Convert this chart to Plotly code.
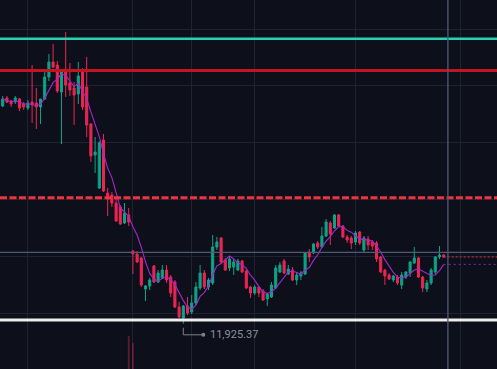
import plotly.graph_objects as go
import pandas as pd

# ---- data ----
bars = list(range(106))
open_ = [12361,12377,12371,12369,12375,12365,12357,12369,12367,12359,
         12375,12419,12449,12443,12389,12429,12407,12397,12385,12433,
         12399,12325,12263,12197,12293,12187,12183,12167,12159,12127,
         12143,12071,12065,12057,11995,12001,12041,12009,12017,12033,
         12019,12009,11959,11937,11961,11949,11967,11997,12027,11999,
         12007,12079,12097,12053,12037,12039,12033,12051,12031,11999,
         11987,11999,11991,11975,11979,11997,12029,12051,12025,12033,
         12013,12021,12025,12069,12067,12087,12079,12101,12127,12117,
         12143,12121,12099,12097,12089,12109,12073,12095,12089,12087,
         12059,12033,12023,12013,12019,12003,12019,12027,12047,12057,
         12019,11995,12007,12029,12059,12063]
close = [12375,12369,12365,12377,12357,12359,12367,12363,12359,12375,
         12419,12449,12439,12391,12429,12403,12393,12383,12421,12359,
         12323,12261,12269,12287,12191,12175,12167,12131,12125,12147,
         12129,12065,12049,12003,12001,12013,12009,12027,12033,12013,
         11987,11959,11939,11961,11947,11967,11999,12027,11999,12013,
         12079,12089,12049,12033,12055,12049,12051,12029,11997,11987,
         11999,11987,11973,11985,12003,12037,12043,12027,12035,12013,
         12023,12027,12067,12059,12085,12079,12101,12129,12105,12143,
         12121,12099,12093,12087,12107,12087,12097,12083,12081,12055,
         12029,12021,12015,12021,12007,12023,12029,12049,12057,12019,
         11997,12007,12033,12059,12063,12059]
high = [12381,12381,12373,12381,12377,12369,12373,12443,12397,12375,
        12429,12465,12485,12451,12431,12509,12447,12409,12449,12437,
        12459,12327,12299,12291,12305,12197,12189,12177,12163,12167,
        12157,12073,12071,12059,12003,12017,12043,12033,12043,12043,
        12023,12013,11969,11963,11979,11983,12009,12043,12033,12017,
        12103,12099,12099,12057,12059,12055,12055,12053,12033,12001,
        12003,12001,11995,11987,12009,12043,12049,12055,12043,12039,
        12027,12031,12069,12075,12087,12091,12119,12135,12131,12145,
        12145,12123,12103,12101,12111,12111,12101,12101,12093,12091,
        12061,12035,12027,12023,12023,12029,12031,12051,12079,12059,
        12021,12013,12037,12061,12081,12065]
low = [12359,12367,12359,12365,12351,12353,12353,12327,12315,12325,
       12373,12411,12437,12387,12285,12379,12381,12323,12365,12353,
       12299,12249,12227,12195,12189,12141,12159,12129,12123,12125,
       12121,12025,12047,11999,11971,11993,12007,12007,12015,12007,
       11979,11957,11937,11925.37,11943,11945,11963,11993,11995,11993,
       12003,12073,12045,12031,12031,12023,12031,12027,11995,11977,
       11983,11979,11971,11961,11977,11995,12027,12025,12023,12011,
       12003,12013,12023,12049,12065,12075,12077,12099,12083,12115,
       12119,12097,12087,12075,12083,12083,12069,12073,12073,12049,
       12027,12003,12013,12009,12003,11995,12015,12019,12045,12017,
       11989,11989,12003,12025,12055,12057]

volume_bars = [30, 31]
volume = [9.0, 7.05]

ma_period = 5
level_teal = 12495.6
level_red = 12432.0
level_red_dash = 12177.6
level_white = 11933.0
cross_price = 12068.4
cross_bar = 106
grid_bars = [6, 31, 45, 60, 84, 109]

BG = "#0d101a"
GRID = "#1e2231"
UP = "#0ca38a"
DOWN = "#eb2553"

ma = pd.Series(close).rolling(ma_period, min_periods=1).mean().tolist()

x_range = [-0.643, 117.69]
y_range = [11835, 12573]

fig = go.Figure()

fig.add_trace(go.Bar(
    x=volume_bars, y=volume, yaxis="y2", width=0.42,
    marker=dict(color="rgba(200,40,70,0.45)", line=dict(width=0)),
    showlegend=False, hoverinfo="skip"))

fig.add_trace(go.Candlestick(
    x=bars, open=open_, high=high, low=low, close=close,
    increasing=dict(line=dict(color=UP, width=1), fillcolor=UP),
    decreasing=dict(line=dict(color=DOWN, width=1), fillcolor=DOWN),
    whiskerwidth=0, showlegend=False))

fig.add_trace(go.Scatter(
    x=bars, y=ma, mode="lines", line=dict(color="#a526cf", width=1.1),
    showlegend=False, hoverinfo="skip"))

# last price / last MA dotted extensions
fig.add_trace(go.Scatter(
    x=[bars[-1], x_range[1]], y=[close[-1], close[-1]], mode="lines",
    line=dict(color="#d8283f", width=1, dash="2px,2px"), showlegend=False))
fig.add_trace(go.Scatter(
    x=[bars[-1], x_range[1]], y=[ma[-1], ma[-1]], mode="lines",
    line=dict(color="#8a22b0", width=1, dash="2px,3px"), showlegend=False))

shapes = []
def hline(y, color, width, dash="solid"):
    shapes.append(dict(type="line", xref="paper", x0=0, x1=1, yref="y",
                       y0=y, y1=y, line=dict(color=color, width=width, dash=dash)))

hline(cross_price, "#4e5a7c", 1.3)
hline(level_teal, "#26d3ae", 2.4)
hline(level_red, "#c3141f", 2.8)
hline(level_red_dash, "#f2313f", 3, "7px,2.5px")
hline(level_white, "#ededed", 3.2)
shapes.append(dict(type="line", xref="x", x0=cross_bar, x1=cross_bar,
                   yref="paper", y0=0, y1=1,
                   line=dict(color="#4e5a7c", width=1.3)))

# low marker (elbow connector)
low_idx = low.index(min(low))
low_val = min(low)
conn = "#7d808a"
shapes.append(dict(type="line", xref="x", yref="y", xsizemode="pixel", ysizemode="pixel",
                   xanchor=low_idx, yanchor=low_val, x0=0, x1=0, y0=-4, y1=-11,
                   line=dict(color=conn, width=1)))
shapes.append(dict(type="line", xref="x", yref="y", xsizemode="pixel", ysizemode="pixel",
                   xanchor=low_idx, yanchor=low_val, x0=0, x1=20, y0=-11, y1=-11,
                   line=dict(color=conn, width=1)))
shapes.append(dict(type="circle", xref="x", yref="y", xsizemode="pixel", ysizemode="pixel",
                   xanchor=low_idx, yanchor=low_val, x0=18, x1=22, y0=-13, y1=-9,
                   fillcolor=conn, line=dict(color=conn, width=0)))

fig.add_annotation(x=low_idx, y=low_val, xref="x", yref="y",
                   text=f"{low_val:,.2f}", showarrow=False,
                   xanchor="left", yanchor="middle", xshift=25, yshift=-11,
                   font=dict(family="Roboto", size=11, color="#8b8e98"))

fig.update_layout(
    width=497, height=369,
    margin=dict(l=0, r=0, t=0, b=0),
    paper_bgcolor=BG, plot_bgcolor=BG,
    showlegend=False, shapes=shapes,
    xaxis=dict(range=x_range, rangeslider=dict(visible=False),
               tickmode="array", tickvals=grid_bars, showticklabels=False,
               showgrid=True, gridcolor=GRID, gridwidth=1, zeroline=False,
               showline=False, ticks=""),
    yaxis=dict(range=y_range, tick0=11947, dtick=113.6, showticklabels=False,
               showgrid=True, gridcolor=GRID, gridwidth=1, zeroline=False,
               showline=False, ticks=""),
    yaxis2=dict(range=[0, 100], overlaying="y", side="right", showgrid=False,
                showticklabels=False, zeroline=False, showline=False),
    font=dict(family="Roboto"),
)

fig.write_html("out.html",
               config={"displayModeBar": False},
               post_script="document.body.style.margin='0';"
                           "document.body.style.background='#0d101a';")
